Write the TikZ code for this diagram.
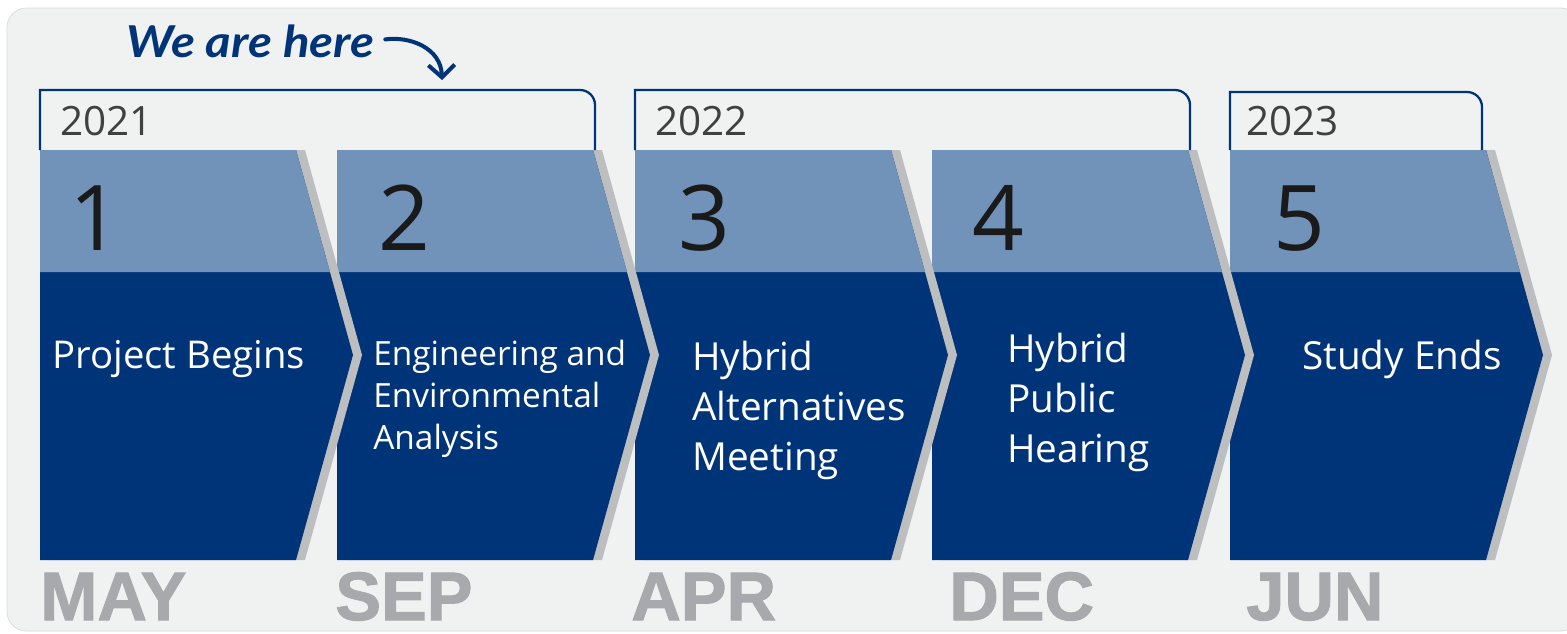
\documentclass[tikz,border=0pt]{standalone}
\usepackage{fontspec}
\setmainfont{Open Sans}
\newfontfamily\monthfont[BoldFeatures={FakeBold=1.5}]{Liberation Sans}
\newfontfamily\handfont[FakeStretch=1.12]{Lato}
\usetikzlibrary{arrows.meta}
\definecolor{navy}{HTML}{003478}
\definecolor{lightnavy}{HTML}{7193B9}
\definecolor{shadowgray}{HTML}{BDBEC0}
\definecolor{monthgray}{HTML}{A7A9AC}
\definecolor{bggray}{HTML}{F0F2F2}
\definecolor{yeargray}{HTML}{404040}
\definecolor{numblack}{HTML}{1A1A1A}

\begin{document}
\begin{tikzpicture}[x=0.02cm,y=-0.02cm,
    steptext/.style={text=white,align=left,anchor=base west,inner sep=0pt},
    numtext/.style={text=numblack,font=\fontsize{51.6}{60}\selectfont,anchor=base west,inner sep=0pt},
    yeartext/.style={text=yeargray,font=\fontsize{23}{28}\selectfont,anchor=base west,inner sep=0pt},
    monthtext/.style={text=monthgray,font=\monthfont\bfseries\fontsize{39}{40}\selectfont,anchor=base west,inner sep=0pt},
    yearbox/.style={draw=navy,line width=1.3pt},
    herearrow/.style={navy,line width=2.3pt,line cap=round,-{Straight Barb[length=7pt,width=15pt]}}]
\useasboundingbox (0,0) rectangle (1567,633);
%Nền
\draw[fill=bggray,draw=black!15,rounded corners=11pt] (7,8) rectangle (1580,631);

%Mũi tên: 5 -> 1, mũi trước nằm trên
\foreach \L in {1230,932,635,337,40}{
    \fill[shadowgray] (\L+9,150) -- (\L+265,150) -- (\L+322,355) -- (\L+265,560) -- (\L+9,560) -- cycle;
    \fill[navy] (\L,150) -- (\L+256,150) -- (\L+313,355) -- (\L+256,560) -- (\L,560) -- cycle;
    \fill[lightnavy] (\L,150) -- (\L+256,150) -- (\L+290,272) -- (\L,272) -- cycle;
}

%Số bước
\foreach \L/\d/\n in {40/29/1, 337/41/2, 635/43/3, 932/40/4, 1230/43/5}{
    \node[numtext] (num\n) at (\L+\d,250) {\n};
}

%Nội dung (mốc ở dòng cuối)
\node[steptext,font=\fontsize{21.8}{25}\selectfont] (step1) at (52,368) {Project Begins};
\node[steptext,font=\fontsize{19}{23.8}\selectfont] (step2) at (373,449) {Engineering and\\Environmental\\Analysis};
\node[steptext,font=\fontsize{22}{28.3}\selectfont] (step3) at (692,470) {Hybrid\\Alternatives\\Meeting};
\node[steptext,font=\fontsize{22}{28.3}\selectfont] (step4) at (1007,462) {Hybrid\\Public\\Hearing};
\node[steptext,font=\fontsize{22}{28.3}\selectfont] (step5) at (1302,369) {Study Ends};

%Năm
\foreach \a/\b/\t in {40/595/90, 635/1190/90, 1230/1482/92}{
    \draw[yearbox] (\a,150) -- (\a,\t) -- (\b-15,\t) arc[start angle=-90,end angle=0,radius=15] -- (\b,150);
}
\node[yeartext] (y2021) at (60,135) {2021};
\node[yeartext] (y2022) at (655,135) {2022};
\node[yeartext] (y2023) at (1246,135) {2023};

%Tháng
\foreach \x/\m in {40/MAY, 335/SEP, 631/APR, 949/DEC, 1246/JUN}{
    \node[monthtext] (m\m) at (\x,620) {\m};
}

%Ghi chú
\node[text=navy,font=\handfont\bfseries\itshape\fontsize{25}{28}\selectfont,anchor=base west,inner sep=0pt] (here) at (126,57) {We are here};
\coordinate (hereTip) at (442,80);
\draw[herearrow,shorten <=6pt] (here.east) .. controls (410,36) and (441,48) .. (hereTip);
\end{tikzpicture}
\end{document}
